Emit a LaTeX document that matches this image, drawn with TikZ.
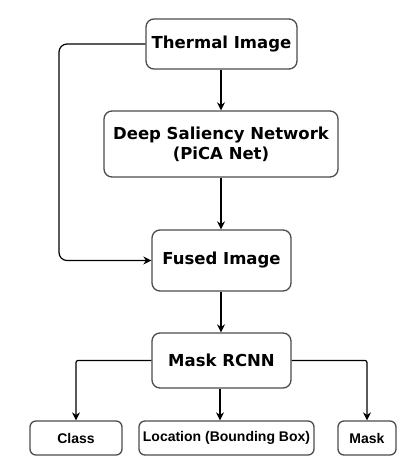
\documentclass[tikz,border=0pt]{standalone}
\usepackage{fontspec}
\setmainfont{DejaVu Sans}
\newfontfamily\smallfont{Liberation Sans}
\usetikzlibrary{arrows.meta}
\begin{document}
\begin{tikzpicture}[x=1pt,y=-1pt,
  box/.style={draw=black!70, line width=1.3pt, rounded corners=8pt, fill=white, align=center, inner sep=0pt},
  bigbox/.style={box, font=\fontsize{16.5}{20}\selectfont\bfseries},
  smallbox/.style={box, rounded corners=6pt, font=\smallfont\fontsize{14}{16}\selectfont\bfseries, minimum height=34pt},
  conn/.style={draw=black, line width=1.2pt, -{Stealth[length=8pt,width=8pt]}}]
\useasboundingbox (0,0) rectangle (419,460);
\node[bigbox, minimum width=151pt, minimum height=50pt] (thermal) at (221.5,44) {Thermal Image};
\node[bigbox, minimum width=234pt, minimum height=66pt] (deep) at (221,144) {Deep Saliency Network\\(PiCA Net)};
\node[bigbox, minimum width=139pt, minimum height=61pt] (fused) at (221.5,260.5) {Fused Image};
\node[bigbox, minimum width=139pt, minimum height=55pt] (mask) at (221.5,360.5) {Mask RCNN};
\node[smallbox, minimum width=92pt] (class) at (76,438) {Class};
\node[smallbox, minimum width=175pt] (loc) at (226.5,438) {Location (Bounding Box)};
\node[smallbox, minimum width=58pt] (maskout) at (367,438) {Mask};
\coordinate (lt) at (59,44);
\coordinate (lb) at (59,260.5);
\draw[conn] (thermal.south -| 221,0) -- (deep.north -| 221,0);
\draw[conn] (deep.south -| 221,0) -- (fused.north -| 221,0);
\draw[conn] (fused.south -| 221,0) -- (mask.north -| 221,0);
\draw[conn, rounded corners=8pt] (thermal.west) -- (lt) -- (lb) -- (fused.west);
\draw[conn, rounded corners=2pt] (mask.west) -| (class.north);
\draw[conn, rounded corners=2pt] (mask.east) -| (maskout.north);
\draw[conn] (mask.south -| 220,0) -- (loc.north -| 220,0);
\end{tikzpicture}
\end{document}
